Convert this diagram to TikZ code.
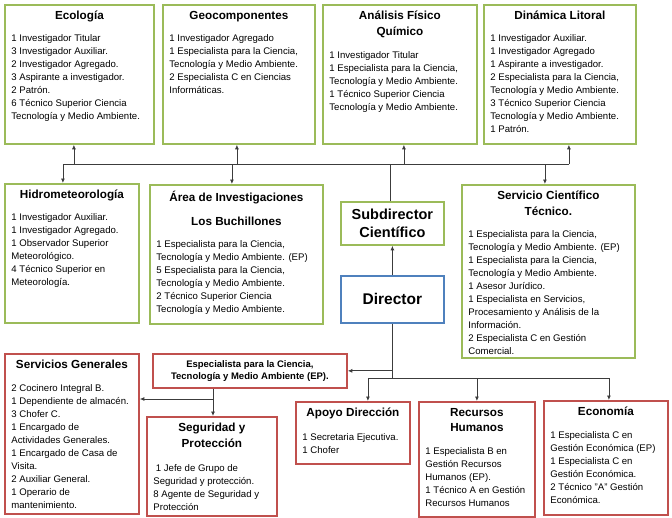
\documentclass[tikz,border=0pt]{standalone}
\usepackage{fontspec}
\setmainfont{Liberation Sans}
\usetikzlibrary{arrows.meta}
\definecolor{verdeC}{RGB}{155,187,89}
\definecolor{rojoC}{RGB}{192,80,77}
\definecolor{azulC}{RGB}{79,129,189}
\definecolor{grisL}{RGB}{60,60,60}
\newcommand{\titulo}{\fontsize{11.7}{15.5}\selectfont\bfseries}
\newcommand{\cuerpo}{\fontsize{9.6}{13}\selectfont}
% [gap]{width}{height}{title}{lines}
\newcommand{\unidad}[5][9pt]{\parbox[t][\dimexpr#3pt-13pt\relax][t]{\dimexpr#2pt-13pt\relax}{{\centering\titulo #4\par}\vspace{#1}\raggedright\cuerpo\begin{tabular}[t]{@{}l@{}}#5\end{tabular}\par}}

\begin{document}
\begin{tikzpicture}[x=1pt, y=-1pt, >={Latex[length=4.5pt,width=4pt]},
	caja/.style={draw, line width=1.8pt, inner sep=6.5pt, anchor=north west},
	verde/.style={caja, draw=verdeC},
	rojo/.style={caja, draw=rojoC},
	linea/.style={draw=grisL, line width=0.8pt},
	flecha/.style={linea, ->}]
	\useasboundingbox (0,0) rectangle (672,517);
	\node[verde] (eco) at (4,4) {\unidad{149}{139}{Ecología}{1 Investigador Titular\\3 Investigador Auxiliar.\\2 Investigador Agregado.\\3 Aspirante a investigador.\\2 Patrón.\\6 Técnico Superior Ciencia\\Tecnología y Medio Ambiente.}};
	\node[verde] (geo) at (162,4) {\unidad{152}{139}{Geocomponentes}{1 Investigador Agregado\\1 Especialista para la Ciencia,\\Tecnología y Medio Ambiente.\\2 Especialista C en Ciencias\\Informáticas.}};
	\node[verde] (ana) at (322,4) {\unidad[10pt]{154}{139}{Análisis Físico\\Químico}{1 Investigador Titular\\1 Especialista para la Ciencia,\\Tecnología y Medio Ambiente.\\1 Técnico Superior Ciencia\\Tecnología y Medio Ambiente.}};
	\node[verde] (din) at (483,4) {\unidad{152}{139}{Dinámica Litoral}{1 Investigador Auxiliar.\\1 Investigador Agregado\\1 Aspirante a investigador.\\2 Especialista para la Ciencia,\\Tecnología y Medio Ambiente.\\3 Técnico Superior Ciencia\\Tecnología y Medio Ambiente.\\1 Patrón.}};
	\node[verde] (hid) at (4,183) {\unidad{134}{139}{Hidrometeorología}{1 Investigador Auxiliar.\\1 Investigador Agregado.\\1 Observador Superior\\Meteorológico.\\4 Técnico Superior en\\Meteorología.}};
	\node[verde] (area) at (149,184) {\unidad{173}{139}{Área de Investigaciones\\[8pt]Los Buchillones}{1 Especialista para la Ciencia,\\Tecnología y Medio Ambiente. (EP)\\5 Especialista para la Ciencia,\\Tecnología y Medio Ambiente.\\2 Técnico Superior Ciencia\\Tecnología y Medio Ambiente.}};
	\node[verde, minimum width=103pt, minimum height=43pt, align=center, font=\fontsize{14.5}{18}\selectfont\bfseries] (sub) at (340,201) {Subdirector\\Científico};
	\node[caja, draw=azulC, minimum width=103pt, minimum height=47pt, font=\fontsize{15.5}{18}\selectfont\bfseries] (dir) at (340,275) {Director};
	\node[verde] (serv) at (461,184) {\unidad{173}{173}{Servicio Científico\\Técnico.}{1 Especialista para la Ciencia,\\Tecnología y Medio Ambiente. (EP)\\1 Especialista para la Ciencia,\\Tecnología y Medio Ambiente.\\1 Asesor Jurídico.\\1 Especialista en Servicios,\\Procesamiento y Análisis de la\\Información.\\2 Especialista C en Gestión\\Comercial.}};
	\node[rojo, minimum width=194pt, minimum height=31pt, align=center, font=\fontsize{9.5}{12}\selectfont\bfseries] (ep) at (152,353) {Especialista para la Ciencia,\\Tecnología y Medio Ambiente (EP).};
	\node[rojo] (sg) at (4,353) {\unidad[10pt]{134}{160}{Servicios Generales}{2 Cocinero Integral B.\\1 Dependiente de almacén.\\3 Chofer C.\\1 Encargado de\\Actividades Generales.\\1 Encargado de Casa de\\Visita.\\2 Auxiliar General.\\1 Operario de\\mantenimiento.}};
	\node[rojo] (seg) at (146,416) {\unidad[11pt]{130}{99}{Seguridad y\\Protección}{\hspace{2.5pt}1 Jefe de Grupo de\\Seguridad y protección.\\8 Agente de Seguridad y\\Protección}};
	\node[rojo] (apo) at (295,401) {\unidad[11pt]{114}{62}{Apoyo Dirección}{1 Secretaria Ejecutiva.\\1 Chofer}};
	\node[rojo] (rrhh) at (418,401) {\unidad[10pt]{116}{115}{Recursos\\Humanos}{1 Especialista B en\\Gestión Recursos\\Humanos (EP).\\1 Técnico A en Gestión\\Recursos Humanos}};
	\node[rojo] (econ) at (543,400) {\unidad[10pt]{124}{114}{Economía}{1 Especialista C en\\Gestión Económica (EP)\\1 Especialista C en\\Gestión Económica.\\2 Técnico "A" Gestión\\Económica.}};
	\coordinate (bus) at (389,164);
	\coordinate (tronco) at (391,378);
	\coordinate (ramal) at (213,399);
	\draw[linea] ([xshift=-9pt]hid.north |- bus) -- ([xshift=9pt]din.south |- bus);
	\draw[linea] ([xshift=-2.5pt]sub.north) -- ([xshift=-2.5pt]sub.north |- bus);
	\draw[flecha] ([xshift=-5.5pt]eco.south |- bus) -- ([xshift=-5.5pt]eco.south);
	\draw[flecha] ([xshift=-2pt]geo.south |- bus) -- ([xshift=-2pt]geo.south);
	\draw[flecha] ([xshift=4pt]ana.south |- bus) -- ([xshift=4pt]ana.south);
	\draw[flecha] ([xshift=9pt]din.south |- bus) -- ([xshift=9pt]din.south);
	\draw[flecha] ([xshift=-9pt]hid.north |- bus) -- ([xshift=-9pt]hid.north);
	\draw[flecha] ([xshift=-4.5pt]area.north |- bus) -- ([xshift=-4.5pt]area.north);
	\draw[flecha] ([xshift=-3.5pt]serv.north |- bus) -- ([xshift=-3.5pt]serv.north);
	\draw[flecha] (dir.north) -- (sub.south);
	\draw[linea] (dir.south) -- (dir.south |- tronco);
	\draw[flecha] (dir.south |- ep.east) -- (ep.east);
	\draw[linea] ([xshift=15pt]apo.north |- tronco) -- ([xshift=3pt]econ.north |- tronco);
	\draw[flecha] ([xshift=15pt]apo.north |- tronco) -- ([xshift=15pt]apo.north);
	\draw[flecha] (rrhh.north |- tronco) -- (rrhh.north);
	\draw[flecha] ([xshift=3pt]econ.north |- tronco) -- ([xshift=3pt]econ.north);
	\draw[linea] (ep.south -| ramal) -- (ramal);
	\draw[flecha] (ramal) -- (ramal -| sg.east);
	\draw[flecha] (ramal) -- (ramal |- seg.north);
\end{tikzpicture}
\end{document}
